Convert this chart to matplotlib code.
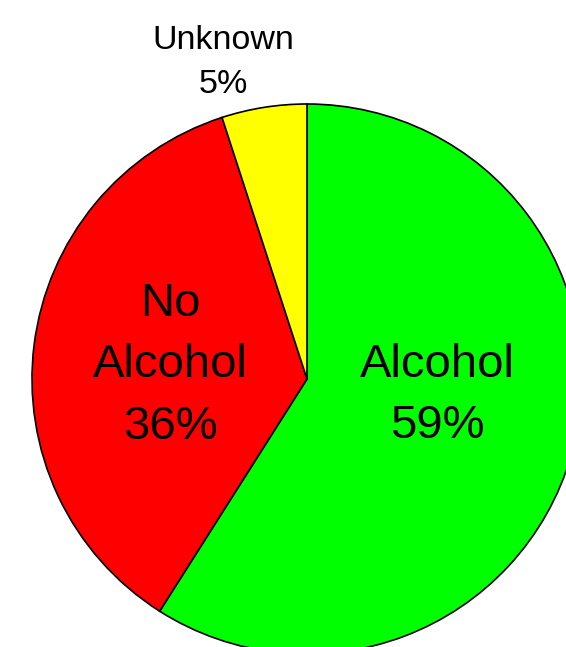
#!/usr/bin/env python

import matplotlib
matplotlib.use("Agg")
import matplotlib.pyplot as plt

categories = ["Alcohol", "No\nAlcohol", "Unknown"]
shares = [59, 36, 5]
colors = ["#00ff00", "#ff0000", "#ffff00"]

def pie_plot():
    """Pie chart, clockwise from top"""
    fig = plt.figure(figsize=(5.66, 6.47), dpi=100)
    ax = fig.add_axes([0, 0, 1, 1])
    ax.pie(shares, colors=colors, startangle=90, counterclock=False,
           radius=1.0, wedgeprops={"edgecolor": "black", "linewidth": 1.2})
    # pixel layout: centre (307, 379), radius 275
    ax.set_xlim(-307 / 275, (566 - 307) / 275)
    ax.set_ylim(-(647 - 379) / 275, 379 / 275)
    ax.set_aspect("equal")
    ax.axis("off")

    font = ["Liberation Sans", "DejaVu Sans"]
    ax.text(0.473, -0.06, f"{categories[0]}\n{shares[0]}%", ha="center", va="center",
            fontsize=34, family=font, linespacing=1.52)
    ax.text(-0.498, 0.05, f"{categories[1]}\n{shares[1]}%", ha="center", va="center",
            fontsize=34, family=font, linespacing=1.52)
    ax.text(-0.305, 1.15, f"{categories[2]}\n{shares[2]}%", ha="center", va="center",
            fontsize=24.5, family=font, linespacing=1.55)
    fig.savefig("out.png", dpi=100)

if __name__ == "__main__":
    pie_plot()
